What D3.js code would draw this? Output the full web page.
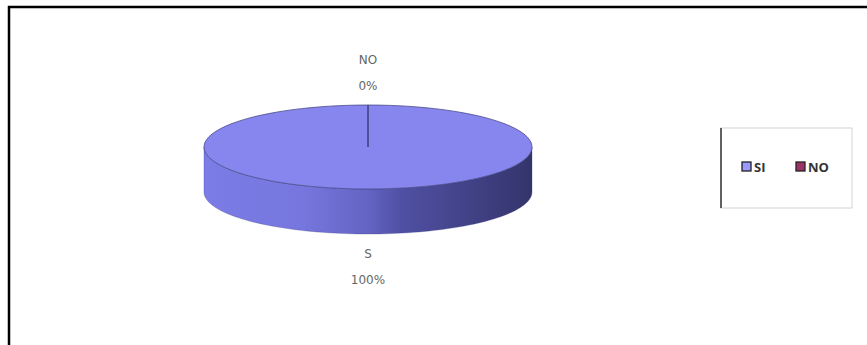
<!DOCTYPE html>
<html>
<head>
<meta charset="utf-8">
<script src="https://cdn.jsdelivr.net/npm/d3@7"></script>
<style>
  body { margin: 0; background: #fff; }
  svg { display: block; }
</style>
</head>
<body>
<div id="chart"></div>
<script>
// frame size
const FRAME_WIDTH = 867;
const FRAME_HEIGHT = 345;

// data
const categories = ["SI", "NO"];
const values = [100, 0];
const sliceLabels = ["S", "NO"];
const percentLabels = ["100%", "0%"];
const colors = ["#8686ee", "#993366"];

// pie geometry
const CX = 368, CY = 147, RX = 164, RY = 42, DEPTH = 45;

const svg = d3.select("#chart")
  .append("svg")
  .attr("width", FRAME_WIDTH)
  .attr("height", FRAME_HEIGHT);

// outer frame (open to the right and bottom)
svg.append("path")
  .attr("d", "M9,345 L9,7 L867,7")
  .attr("fill", "none")
  .attr("stroke", "#000")
  .attr("stroke-width", 2.5);

const color = d3.scaleOrdinal().domain(categories).range(colors);

// side gradient
const defs = svg.append("defs");
const grad = defs.append("linearGradient")
  .attr("id", "side")
  .attr("gradientUnits", "userSpaceOnUse")
  .attr("x1", CX - RX).attr("x2", CX + RX)
  .attr("y1", 0).attr("y2", 0);
grad.append("stop").attr("offset", 0).attr("stop-color", "#7c7ce6");
grad.append("stop").attr("offset", 0.3).attr("stop-color", "#7676de");
grad.append("stop").attr("offset", 0.5).attr("stop-color", "#6464c4");
grad.append("stop").attr("offset", 0.6).attr("stop-color", "#5050a4");
grad.append("stop").attr("offset", 1).attr("stop-color", "#34346c");

const pie = d3.pie().sort(null).value(d => d.value);
const arcs = pie(categories.map((c, i) => ({cat: c, value: values[i], label: sliceLabels[i], pct: percentLabels[i]})));

// angle (clockwise from top) -> point on ellipse
const px = (a) => CX + RX * Math.sin(a);
const py = (a) => CY - RY * Math.cos(a);

function ellipsePoints(a0, a1, dy) {
  const n = 90;
  return d3.range(n + 1).map(i => {
    const a = a0 + (a1 - a0) * i / n;
    return [px(a), py(a) + dy];
  });
}

// side wall: front half of each slice
arcs.forEach(d => {
  const a0 = Math.max(d.startAngle, Math.PI / 2);
  const a1 = Math.min(d.endAngle, Math.PI * 1.5);
  if (a1 <= a0) return;
  const top = ellipsePoints(a0, a1, 0);
  const bot = ellipsePoints(a0, a1, DEPTH).reverse();
  svg.append("path")
    .attr("d", d3.line()(top.concat(bot)) + "Z")
    .attr("fill", d.data.cat === "SI" ? "url(#side)" : color(d.data.cat))
    .attr("stroke", "#3c3c80")
    .attr("stroke-width", 0.6)
    .attr("stroke-opacity", 0.5);
});

// top faces
arcs.forEach(d => {
  const pts = ellipsePoints(d.startAngle, d.endAngle, 0);
  svg.append("path")
    .attr("d", "M" + CX + "," + CY + d3.line()(pts).replace("M", "L") + "Z")
    .attr("fill", color(d.data.cat))
    .attr("stroke", "#4a4a8c")
    .attr("stroke-width", 0.8);
});

// data labels
arcs.forEach(d => {
  const mid = (d.startAngle + d.endAngle) / 2;
  const below = Math.cos(mid) < 0;
  const ly = below ? CY + 111 : CY - 83;
  const g = svg.append("g")
    .attr("font-family", "'DejaVu Sans', sans-serif")
    .attr("font-size", 12)
    .attr("fill", "#666")
    .attr("text-anchor", "middle");
  g.append("text").attr("x", CX).attr("y", ly).text(d.data.label);
  g.append("text").attr("x", CX).attr("y", ly + 26).text(d.data.pct);
});

// legend
const legend = svg.append("g");
legend.append("rect")
  .attr("x", 721).attr("y", 128)
  .attr("width", 131).attr("height", 80)
  .attr("fill", "#fff")
  .attr("stroke", "#d4d4d4")
  .attr("stroke-width", 1);
legend.append("line")
  .attr("x1", 721).attr("x2", 721)
  .attr("y1", 128).attr("y2", 208)
  .attr("stroke", "#333").attr("stroke-width", 1.5);

const legendX = [742, 796];
categories.forEach((c, i) => {
  legend.append("rect")
    .attr("x", legendX[i]).attr("y", 162)
    .attr("width", 9).attr("height", 9)
    .attr("fill", i === 0 ? "#9999ff" : color(c))
    .attr("stroke", "#222").attr("stroke-width", 1.3);
  legend.append("text")
    .attr("x", legendX[i] + 12).attr("y", 172)
    .attr("font-family", "'Open Sans', sans-serif")
    .attr("font-size", 13)
    .attr("font-weight", "bold")
    .attr("fill", "#333")
    .text(c);
});
</script>
</body>
</html>
